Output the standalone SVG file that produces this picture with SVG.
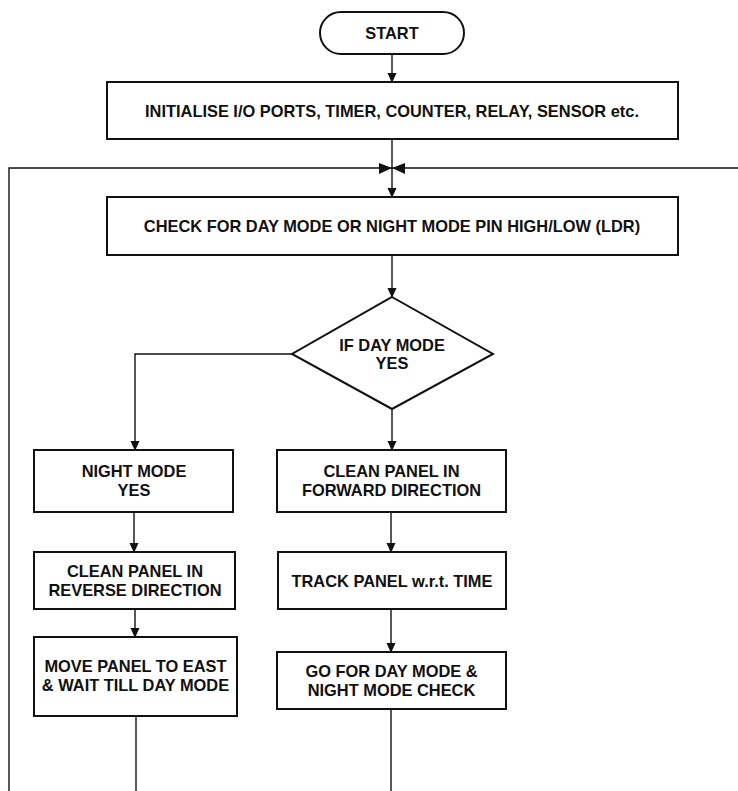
<svg xmlns="http://www.w3.org/2000/svg" width="738" height="791" viewBox="0 0 738 791">
<style>
.box{fill:#fff;stroke:#111;stroke-width:2}
.t{font-family:"Liberation Sans",Arial,sans-serif;font-weight:bold;font-size:16.4px;fill:#111;text-anchor:middle}
.c{fill:none;stroke:#111;stroke-width:1.4}
</style>
<defs>
<marker id="ah" markerWidth="10" markerHeight="11" refX="10" refY="5" orient="auto" markerUnits="userSpaceOnUse" viewBox="0 0 11 10">
<path d="M0,0 L11,5 L0,10 Z" fill="#111"/>
</marker>
</defs>
<rect width="738" height="791" fill="#fff"/>
<g id="connectors">
<line class="c" x1="392" y1="54" x2="392" y2="82" marker-end="url(#ah)"/>
<line class="c" x1="392" y1="139" x2="392" y2="197" marker-end="url(#ah)"/>
<polyline class="c" points="738,168 9,168 9,791"/>
<path d="M379,163 L392,168 L379,174 Z" fill="#111"/>
<path d="M405,163 L392,168 L405,174 Z" fill="#111"/>
<line class="c" x1="392" y1="255" x2="392" y2="297" marker-end="url(#ah)"/>
<polyline class="c" points="292,354 135,354 135,450" marker-end="url(#ah)"/>
<line class="c" x1="392" y1="409" x2="392" y2="450" marker-end="url(#ah)"/>
<line class="c" x1="134" y1="512" x2="134" y2="552" marker-end="url(#ah)"/>
<line class="c" x1="135" y1="609" x2="135" y2="637" marker-end="url(#ah)"/>
<line class="c" x1="136" y1="716" x2="136" y2="791"/>
<line class="c" x1="391" y1="512" x2="391" y2="552" marker-end="url(#ah)"/>
<line class="c" x1="391" y1="609" x2="391" y2="652" marker-end="url(#ah)"/>
<line class="c" x1="391" y1="709" x2="391" y2="791"/>
</g>
<g id="start">
<rect class="box" x="320" y="12" width="144" height="42" rx="21" ry="21"/>
<text class="t" x="392" y="39">START</text>
</g>
<g id="init">
<rect class="box" x="107" y="82" width="571" height="57"/>
<text class="t" x="392" y="117">INITIALISE I/O PORTS, TIMER, COUNTER, RELAY, SENSOR etc.</text>
</g>
<g id="check">
<rect class="box" x="107" y="197" width="571" height="58"/>
<text class="t" x="392" y="232">CHECK FOR DAY MODE OR NIGHT MODE PIN HIGH/LOW (LDR)</text>
</g>
<g id="decision">
<polygon class="box" points="392,297 493,354 392,409 292,354"/>
<text class="t" x="392" y="351">IF DAY MODE</text>
<text class="t" x="392" y="369">YES</text>
</g>
<g id="night">
<rect class="box" x="34" y="450" width="199" height="62"/>
<text class="t" x="134" y="477">NIGHT MODE</text>
<text class="t" x="134" y="496">YES</text>
</g>
<g id="reverse">
<rect class="box" x="34" y="552" width="201" height="57"/>
<text class="t" x="135" y="577">CLEAN PANEL IN</text>
<text class="t" x="135" y="596">REVERSE DIRECTION</text>
</g>
<g id="east">
<rect class="box" x="34" y="637" width="203" height="79"/>
<text class="t" x="135.5" y="672">MOVE PANEL TO EAST</text>
<text class="t" x="135.5" y="691">&amp; WAIT TILL DAY MODE</text>
</g>
<g id="forward">
<rect class="box" x="277" y="450" width="229" height="62"/>
<text class="t" x="391.5" y="477">CLEAN PANEL IN</text>
<text class="t" x="391.5" y="496">FORWARD DIRECTION</text>
</g>
<g id="track">
<rect class="box" x="278" y="552" width="228" height="57"/>
<text class="t" x="392" y="587">TRACK PANEL w.r.t. TIME</text>
</g>
<g id="goto">
<rect class="box" x="277" y="652" width="229" height="57"/>
<text class="t" x="391.5" y="677">GO FOR DAY MODE &amp;</text>
<text class="t" x="391.5" y="696">NIGHT MODE CHECK</text>
</g>
</svg>
